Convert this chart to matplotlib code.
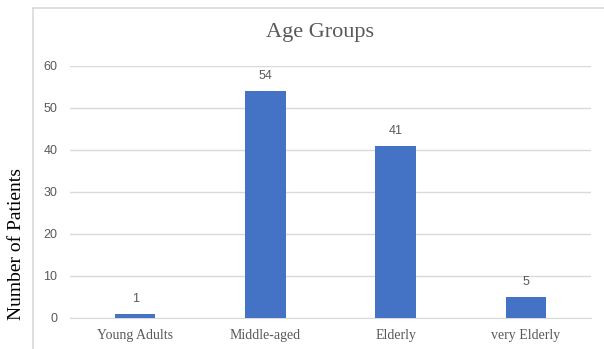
import matplotlib
matplotlib.use("Agg")
import matplotlib.pyplot as plt
from matplotlib.lines import Line2D

groups = ["Young Adults", "Middle-aged", "Elderly", "very Elderly"]
patients = [1, 54, 41, 5]
y_ticks = [0, 10, 20, 30, 40, 50, 60]

bar_color = "#4472C4"
text_gray = "#595959"
grid_gray = "#D9D9D9"

fig = plt.figure(figsize=(6.04, 3.49), dpi=100)
ax = fig.add_axes([70 / 604, 1 - 318 / 349, 521 / 604, 252 / 349])

bars = ax.bar(range(len(groups)), patients, width=0.31, color=bar_color, zorder=3)
ax.set_xlim(-0.5, len(groups) - 0.5)
ax.set_ylim(0, 60)
ax.set_yticks(y_ticks)
ax.yaxis.grid(True, color=grid_gray, linewidth=1, zorder=0)

for side in ["top", "right", "left"]:
    ax.spines[side].set_visible(False)
ax.spines["bottom"].set_color(grid_gray)
ax.tick_params(axis="both", length=0)
ax.tick_params(axis="y", pad=9, labelcolor=text_gray, labelsize=9)
ax.tick_params(axis="x", pad=8, labelcolor=text_gray)

ax.set_xticks(range(len(groups)))
ax.set_xticklabels(groups, family="Liberation Serif", fontsize=10)
for lbl in ax.get_yticklabels():
    lbl.set_family("Liberation Sans")

# value labels above each bar
for b, v in zip(bars, patients):
    ax.annotate(str(v), (b.get_x() + b.get_width() / 2, v),
                xytext=(0, 11), textcoords="offset points",
                ha="center", va="center", fontsize=9,
                color=text_gray, family="Liberation Sans")

fig.text(320 / 604, 1 - 33 / 349, "Age Groups", ha="center", va="center",
         fontsize=16, color=text_gray, family="Liberation Serif")
fig.text(17 / 604, 1 - 244 / 349, "Number of Patients", rotation=90,
         ha="center", va="center", fontsize=14, color="black",
         family="Liberation Serif")

# chart area frame
fig.add_artist(Line2D([33 / 604, 1], [1 - 8 / 349, 1 - 8 / 349],
                      color=grid_gray, linewidth=1.2, transform=fig.transFigure))
fig.add_artist(Line2D([33 / 604, 33 / 604], [0, 1 - 8 / 349],
                      color=grid_gray, linewidth=1.2, transform=fig.transFigure))

fig.savefig("out.png", dpi=100)
